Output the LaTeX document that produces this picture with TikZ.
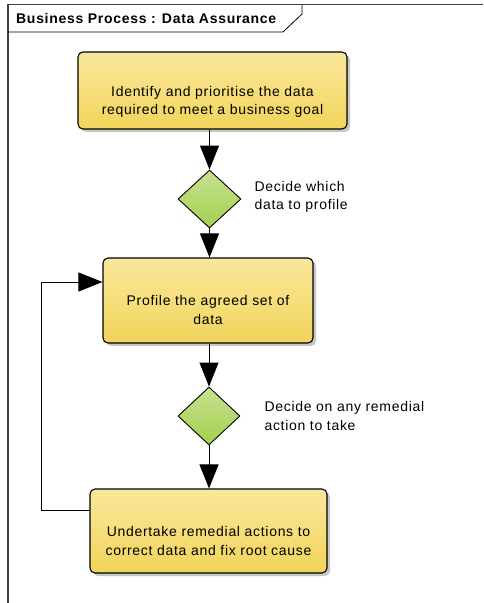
\documentclass[tikz,border=0pt]{standalone}
\usepackage{fontspec}
\setmainfont[LetterSpace=5]{Liberation Sans}
\usetikzlibrary{arrows.meta,shapes.geometric,shadows}
\definecolor{boxtop}{HTML}{F9E89C}
\definecolor{boxbot}{HTML}{F2D45A}
\definecolor{dtop}{HTML}{C8E290}
\definecolor{dbot}{HTML}{A3CF4E}
\definecolor{framec}{HTML}{404040}
\begin{document}
\begin{tikzpicture}[x=1pt,y=-1pt,
  actbox/.style={draw=black,line width=1.1pt,rounded corners=5pt,
    top color=boxtop,bottom color=boxbot,inner sep=0pt,
    drop shadow={shadow xshift=3pt,shadow yshift=-3pt,fill=black!22,opacity=1}},
  decision/.style={diamond,draw=black,line width=0.9pt,inner sep=0pt,
    top color=dtop,bottom color=dbot},
  boxtext/.style={align=center,font=\fontsize{14}{18.5}\selectfont},
  notetext/.style={align=left,anchor=west,font=\fontsize{14}{18.5}\selectfont},
  flow/.style={line width=1pt,-{Triangle[length=24pt,width=19pt]}},
  plain/.style={line width=1pt}]
\useasboundingbox (0,0) rectangle (483,603);

% diagram frame and its name tab
\draw[framec,line width=1.2pt] (483,4.5) -- (8,4.5) -- (8,603);
\draw[line width=0.8pt] (8,32) -- (283,32) -- (302,14) -- (302,4.5);
\node[anchor=west,inner sep=0pt,font=\fontsize{14}{16}\selectfont\bfseries] (title) at (16,18.5) {Business Process : Data Assurance};

% activities
\node[actbox,minimum width=269pt,minimum height=77pt] (b1) at (212.5,90.5) {};
\node[boxtext] (t1) at (212.5,102) {Identify and prioritise the data\\required to meet a business goal};

\node[decision,minimum width=63pt,minimum height=58pt] (d1) at (209.5,199) {};
\node[notetext] (n1) at (251,197) {Decide which\\data to profile};

\node[actbox,minimum width=210pt,minimum height=85pt] (b2) at (208,300.5) {};
\node[boxtext] (t2) at (208,310) {Profile the agreed set of\\data};

\node[decision,minimum width=62pt,minimum height=58pt] (d2) at (209,416) {};
\node[notetext] (n2) at (261,416) {Decide on any remedial\\action to take};

\node[actbox,minimum width=237pt,minimum height=84pt] (b3) at (208.5,531) {};
\node[boxtext] (t3) at (208.5,541) {Undertake remedial actions to\\correct data and fix root cause};

% control flow
\draw[flow] (b1.south -| d1.north) -- (d1.north);
\draw[flow] (d1.south) -- (d1.south |- b2.north);
\draw[flow] (b2.south -| d2.north) -- (d2.north);
\draw[flow] (d2.south) -- (d2.south |- b3.north);

% loop back from the remedial actions
\coordinate (loopout) at ([yshift=21pt]b3.west);
\coordinate (loopin) at ([yshift=18.5pt]b2.west);
\coordinate (loopcorner) at (41,510);
\draw[plain] (loopout) -- (loopcorner);
\draw[flow] (loopcorner) |- (loopin);
\end{tikzpicture}
\end{document}
